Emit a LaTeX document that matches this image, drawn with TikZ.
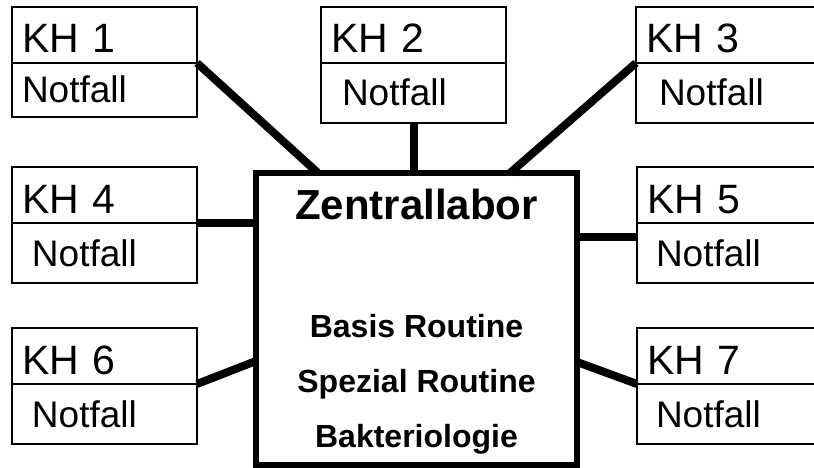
\documentclass[tikz,border=0pt]{standalone}
\usepackage{fontspec}
\setmainfont{Liberation Sans}
\usetikzlibrary{positioning,calc}

\begin{document}
\begin{tikzpicture}[x=1pt,y=-1pt,
    kh/.style={draw,line width=2.5pt,outer sep=0pt,inner xsep=0pt,inner ysep=0pt,
      text width=185pt,align=left,minimum width=185pt,text depth=0pt},
    head/.style={kh,anchor=north west,minimum height=56pt,text height=36pt,
      font=\fontsize{41pt}{41pt}\selectfont,execute at begin node={\hspace*{10pt}}},
    foot/.style 2 args={kh,below=0pt of #1,minimum height=60pt,text height=26pt,
      font=\fontsize{37pt}{37pt}\selectfont,execute at begin node={\hspace*{#2}}},
    link/.style={line width=8pt},
    lab/.style={anchor=base,font=\bfseries\fontsize{32pt}{32pt}\selectfont}]
  \useasboundingbox (0,0) rectangle (814,468);
  \clip (0,0) rectangle (814,468);

  % Zentrallabor in der Mitte
  \node[draw,line width=5.5pt,outer sep=0pt,anchor=north west,
    minimum width=321pt,minimum height=292pt] (ZL) at (256,173) {};
  \node[lab,font=\bfseries\fontsize{42pt}{42pt}\selectfont] (ZLname) at (416.5,219) {Zentrallabor};
  \node[lab] (basis) at (416.5,337) {Basis Routine};
  \node[lab] (spez) at (416.5,392) {Spezial Routine};
  \node[lab] (bakt) at (416.5,447) {Bakteriologie};

  % Krankenhaeuser
  \node[head] (KH1) at (12,7) {KH 1};
  \node[foot={KH1}{10pt},minimum height=54pt] (KH1n) {Notfall};
  \node[head] (KH2) at (321,7) {KH 2};
  \node[foot={KH2}{21pt}] (KH2n) {Notfall};
  \node[head] (KH3) at (636,7) {KH 3};
  \node[foot={KH3}{23pt}] (KH3n) {Notfall};
  \node[head] (KH4) at (12,167) {KH 4};
  \node[foot={KH4}{20pt}] (KH4n) {Notfall};
  \node[head] (KH5) at (637,167) {KH 5};
  \node[foot={KH5}{19pt}] (KH5n) {Notfall};
  \node[head] (KH6) at (12,328) {KH 6};
  \node[foot={KH6}{20pt}] (KH6n) {Notfall};
  \node[head] (KH7) at (637,328) {KH 7};
  \node[foot={KH7}{19pt}] (KH7n) {Notfall};

  % Verbindungen
  \draw[link] (KH1.south east) -- ($(ZL.north west)+(62,0)$);
  \draw[link] (KH2n.south) -- (KH2n.south |- ZL.north);
  \draw[link] (KH3.south west) -- ($(ZL.north east)+(-67,0)$);
  \draw[link] (KH4.south east) -- (KH4.south east -| ZL.west);
  \draw[link] ($(KH5n.north west)+(0,14)$) coordinate (k5) -- (k5 -| ZL.east);
  \draw[link] (KH6n.north east) -- ($(ZL.north west)+(0,188)$);
  \draw[link] ($(ZL.north east)+(0,189)$) -- (KH7n.north west);
\end{tikzpicture}
\end{document}
